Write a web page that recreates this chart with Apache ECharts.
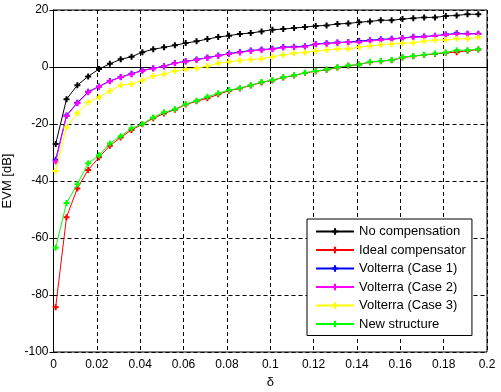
<!DOCTYPE html>
<html>
<head>
<meta charset="utf-8">
<script src="https://cdn.jsdelivr.net/npm/echarts@6/dist/echarts.min.js"></script>
<style>html,body{margin:0;padding:0;background:#fff}#c{width:501px;height:392px}</style>
</head>
<body>
<div id="c"></div>
<script>
// x = 0.001 : 0.005 : 0.196 (40 points)
var deltas = [0.001,0.006,0.011,0.016,0.021,0.026,0.031,0.036,0.041,0.046,0.051,0.056,0.061,0.066,0.071,0.076,0.081,0.086,0.091,0.096,0.101,0.106,0.111,0.116,0.121,0.126,0.131,0.136,0.141,0.146,0.151,0.156,0.161,0.166,0.171,0.176,0.181,0.186,0.191,0.196];
var seriesNames = ["No compensation","Ideal compensator","Volterra (Case 1)","Volterra (Case 2)","Volterra (Case 3)","New structure"];
var seriesColors = ["#000000","#ff0000","#0000ff","#ff00ff","#ffff00","#00ff00"];
var noComp = [-27,-11.3,-6.4,-3.3,-0.7,1.1,2.7,3.6,5.2,6.2,6.9,7.6,8.4,9.0,9.8,10.5,11.0,11.6,11.9,12.5,13.1,13.3,13.7,14.0,14.4,14.6,15.1,15.3,15.7,16.0,16.4,16.4,16.8,17.1,17.4,17.4,17.9,18.1,18.5,18.5];
var ideal = [-84.3,-52.7,-42.6,-36.1,-31.7,-27.6,-24.7,-22.1,-20.1,-18.0,-16.3,-15.0,-13.2,-12.0,-11.0,-9.6,-8.3,-7.5,-6.5,-5.4,-4.7,-3.7,-3.0,-2.1,-1.5,-1.0,-0.2,0.4,0.9,1.7,2.0,2.4,3.3,3.8,4.2,4.6,5.0,5.2,5.7,6.1];
var volt1 = [-32.5,-17.0,-12.5,-8.7,-6.8,-4.9,-3.5,-2.4,-1.2,-0.4,0.3,1.4,2.0,2.6,3.3,4.0,4.7,5.3,5.8,6.1,6.4,7.0,7.1,7.3,8.1,8.3,8.6,8.8,9.1,9.4,9.7,9.9,10.2,10.6,10.7,11.0,11.4,11.8,11.7,11.7];
var volt2 = [-33.2,-17.2,-12.7,-8.9,-6.9,-5.0,-3.6,-2.5,-1.3,-0.5,0.2,1.3,1.9,2.5,3.2,3.9,4.6,5.1,5.6,6.0,6.2,6.8,6.9,7.1,8.0,8.2,8.5,8.7,8.7,9.2,9.5,9.7,10.1,10.4,10.6,10.9,11.3,11.6,11.6,11.6];
var volt3 = [-36.5,-21.2,-16.2,-12.4,-10.6,-8.4,-6.4,-6.0,-4.7,-3.2,-2.5,-1.4,-0.8,-0.4,0.3,1.3,1.8,2.3,2.6,2.9,3.6,4.2,4.8,5.1,5.6,6.0,6.3,6.4,6.9,7.4,7.8,8.1,8.3,8.5,9.0,9.4,9.5,9.9,9.9,10.4];
var newStruct = [-63.4,-47.7,-41.1,-33.8,-31.0,-26.8,-24.3,-21.5,-20.0,-17.7,-15.9,-14.8,-13.0,-11.8,-10.4,-9.2,-8.1,-7.4,-6.4,-5.3,-4.6,-3.6,-2.9,-2.0,-1.4,-0.9,-0.1,0.5,0.9,1.8,2.1,2.5,3.4,3.9,4.3,4.7,5.1,5.9,5.9,6.2];
var xTicks = {min:0, max:0.2, interval:0.02};
var yTicks = {min:-100, max:20, interval:20};

var allData = [noComp, ideal, volt1, volt2, volt3, newStruct];
var plus = 'path://M2,0H4V2H6V4H4V6H2V4H0V2H2Z';
var series = allData.map(function(vals, i){
  return {
    name: seriesNames[i], type:'line',
    data: deltas.map(function(d,j){return [d, vals[j]];}),
    symbol: plus, symbolSize: 6, showSymbol: true,
    lineStyle:{color:seriesColors[i], width:1},
    itemStyle:{color:seriesColors[i]},
    emphasis:{disabled:true}, animation:false, z: 2+i
  };
});
var chart = echarts.init(document.getElementById('c'), null, {renderer:'canvas'});
var font = 'Arial, "Liberation Sans", sans-serif';
chart.setOption({
  animation:false,
  backgroundColor:'#fff',
  textStyle:{fontFamily:font},
  grid:{left:53.5, right:14, top:10, bottom:40, containLabel:false, outerBoundsMode:'none',
    show:true, borderColor:'#000', borderWidth:1, backgroundColor:'transparent'},
  legend:{
    orient:'vertical', left:307, top:219,
    padding:[6,6,5,8], itemGap:5.5, itemWidth:38, itemHeight:8,
    backgroundColor:'#fff', borderColor:'#000', borderWidth:1,
    textStyle:{fontFamily:font, fontSize:13, color:'#000'},
    data: seriesNames.map(function(n){return {name:n};}),
    selectedMode:false
  },
  xAxis:[{
    type:'value', min:xTicks.min, max:xTicks.max, interval:xTicks.interval,
    name:'δ', nameLocation:'middle', nameGap:22,
    nameTextStyle:{fontFamily:font, fontSize:13, color:'#000'},
    axisLine:{show:true, lineStyle:{color:'#000'}},
    axisTick:{inside:true, length:4, lineStyle:{color:'#000'}},
    axisLabel:{fontFamily:font, fontSize:12, color:'#000', margin:7,
      formatter:function(v){return String(+v.toFixed(2));}},
    splitLine:{show:true, lineStyle:{color:'#000', type:[4,3], width:1}}
  },{
    type:'value', position:'top', min:xTicks.min, max:xTicks.max, interval:xTicks.interval,
    axisLine:{show:true, lineStyle:{color:'#000'}},
    axisTick:{inside:true, length:4, lineStyle:{color:'#000'}},
    axisLabel:{show:false}, splitLine:{show:false}
  }],
  yAxis:[{
    type:'value', min:yTicks.min, max:yTicks.max, interval:yTicks.interval,
    name:'EVM [dB]', nameLocation:'middle', nameGap:36,
    nameTextStyle:{fontFamily:font, fontSize:13, color:'#000'},
    axisLine:{show:true, lineStyle:{color:'#000'}},
    axisTick:{inside:true, length:4, lineStyle:{color:'#000'}},
    axisLabel:{fontFamily:font, fontSize:12, color:'#000', margin:5},
    splitLine:{show:true, lineStyle:{color:'#000', type:[4,3], width:1}}
  },{
    type:'value', position:'right', min:yTicks.min, max:yTicks.max, interval:yTicks.interval,
    axisLine:{show:true, lineStyle:{color:'#000'}},
    axisTick:{inside:true, length:4, lineStyle:{color:'#000'}},
    axisLabel:{show:false}, splitLine:{show:false}
  }],
  series: series
});
</script>
</body>
</html>
